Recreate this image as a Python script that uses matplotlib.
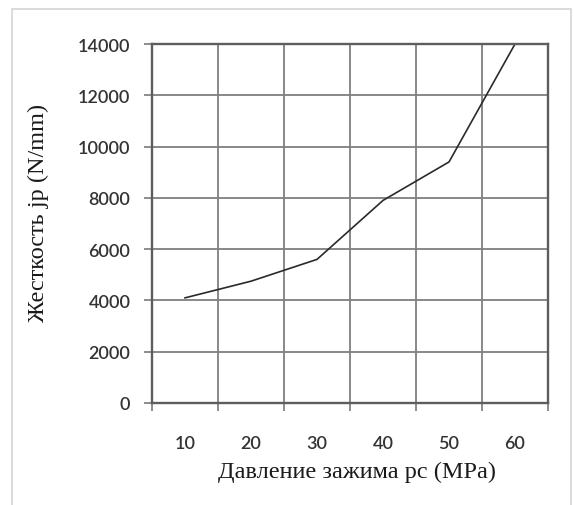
import matplotlib.pyplot as plt
from matplotlib.patches import Rectangle

# clamping pressure (MPa) vs. stiffness (N/mm)
pressure = [10, 20, 30, 40, 50, 60]
stiffness = [4100, 4750, 5600, 7900, 9400, 14000]
x_ticks = [10, 20, 30, 40, 50, 60]
y_ticks = [0, 2000, 4000, 6000, 8000, 10000, 12000, 14000]

x_label = "Давление зажима pc (MPa)"
y_label = "Жесткость jp (N/mm)"

W, H = 574, 506
fig = plt.figure(figsize=(W / 100, H / 100), dpi=100)
fig.patch.set_facecolor("white")

# light frame around the whole chart
fig.add_artist(Rectangle((12 / W, -0.05), (571 - 12) / W, (H - 10) / H + 0.05,
                         transform=fig.transFigure, fill=False,
                         ec="#d4d4d4", lw=1.2))

ax = fig.add_axes([152 / W, 1 - 404 / H, (548 - 152) / W, (404 - 45) / H])

ax.plot(pressure, stiffness, color="#2a2a2a", lw=1.2, clip_on=True)

ax.set_xlim(5, 65)
ax.set_ylim(0, 14000)

# category-style x axis: labels in the middle, ticks and grid at the borders
ax.set_xticks(x_ticks)
ax.set_xticks([5, 15, 25, 35, 45, 55, 65], minor=True)
ax.set_yticks(y_ticks)

ax.tick_params(axis="x", which="major", length=0, pad=23,
               labelsize=13, labelcolor="#333333")
ax.tick_params(axis="x", which="minor", length=5.5, width=1.2,
               color="#7a7a7a", direction="out")
ax.tick_params(axis="y", length=5.5, width=1.2, color="#7a7a7a",
               direction="out", pad=10, labelsize=13, labelcolor="#333333")
for lab in ax.get_xticklabels() + ax.get_yticklabels():
    lab.set_family("Lato")
    lab.set_fontweight("semibold")

ax.grid(False)
ax.grid(True, axis="x", which="minor", color="#7f7f7f", lw=1.3)
ax.grid(True, axis="y", which="major", color="#7f7f7f", lw=1.3)
ax.set_axisbelow(True)

for side in ["left", "bottom", "top", "right"]:
    ax.spines[side].set_color("#5e5e5e")
    ax.spines[side].set_linewidth(1.7)

ax.set_xlabel(x_label, family="Liberation Serif", fontsize=17.5,
              color="#1a1a1a", va="center")
ax.xaxis.set_label_coords((357 - 152) / 396, (404 - 472) / 359)
ax.set_ylabel(y_label, family="Liberation Serif", fontsize=17.5,
              color="#1a1a1a", va="center")
ax.yaxis.set_label_coords((38 - 152) / 396, (404 - 213) / 359)

fig.savefig("out.png", dpi=100)
